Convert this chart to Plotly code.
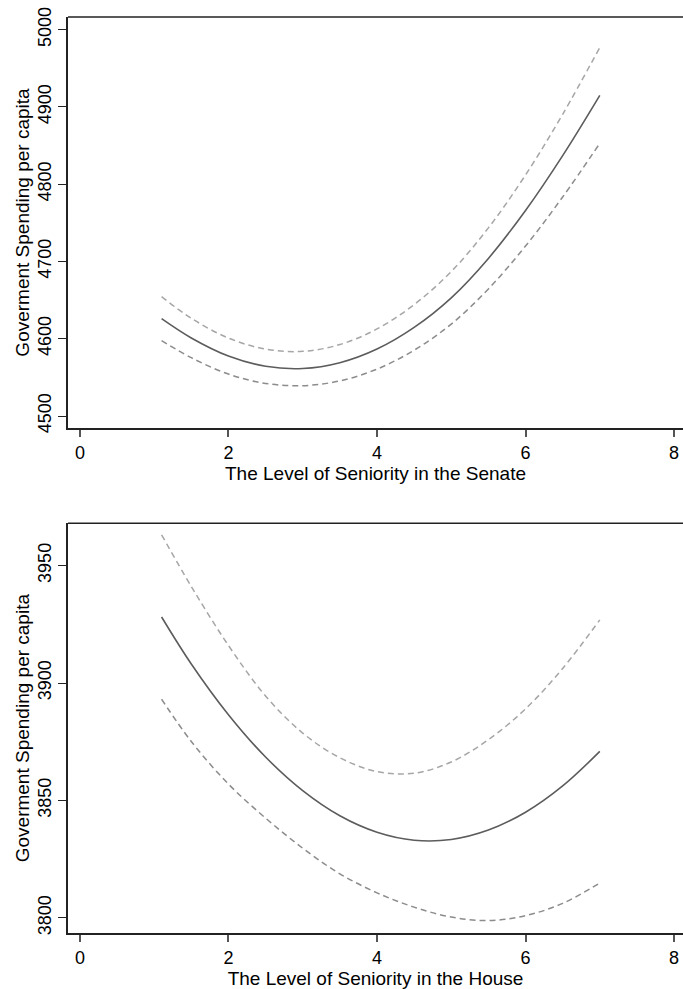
import plotly.graph_objects as go

# ---- data ----
seniority = [1.1, 1.5, 2.0, 2.5, 3.0, 3.5, 4.0, 4.5, 5.0, 5.5, 6.0, 6.5, 7.0]

senate_fit = [4626.0, 4601.0, 4577.6, 4564.4, 4561.5, 4569.0, 4586.7, 4614.7, 4653.0, 4704.0, 4766.0, 4837.0, 4915.0]
senate_upper = [4654.5, 4626.5, 4600.9, 4586.6, 4583.7, 4592.5, 4612.7, 4644.2, 4687.0, 4743.5, 4812.0, 4890.5, 4977.0]
senate_lower = [4597.5, 4575.5, 4554.3, 4542.2, 4539.3, 4545.5, 4560.7, 4585.2, 4619.0, 4664.5, 4720.0, 4783.5, 4853.0]

house_fit = [3928.1, 3908.1, 3886.5, 3868.5, 3854.2, 3843.5, 3836.5, 3833.1, 3833.4, 3837.4, 3845.0, 3856.2, 3870.9]
house_upper = [3963.1, 3941.1, 3916.0, 3894.5, 3878.7, 3868.2, 3862.3, 3861.6, 3866.4, 3875.9, 3889.0, 3906.2, 3926.9]
house_lower = [3893.1, 3875.1, 3857.0, 3842.5, 3829.7, 3818.8, 3810.7, 3804.6, 3800.4, 3798.9, 3801.0, 3806.2, 3814.9]

x_ticks = [0, 2, 4, 6, 8]
senate_yticks = [4500, 4600, 4700, 4800, 4900, 5000]
house_yticks = [3800, 3850, 3900, 3950]

x_title_top = "The Level of Seniority in the Senate"
x_title_bottom = "The Level of Seniority in the House"
y_title = "Goverment Spending per capita"

FONT = "Liberation Sans, Arial, sans-serif"
SOLID = "#5c5c5c"
UP = "#a6a6a6"
LO = "#8c8c8c"
DASH = "6px,4px"

fig = go.Figure()

def add_set(xa, ya, fit, up, lo):
    fig.add_trace(go.Scatter(x=seniority, y=up, mode="lines", xaxis=xa, yaxis=ya,
                             line=dict(color=UP, width=1.5, dash=DASH, shape="spline"),
                             showlegend=False, hoverinfo="skip"))
    fig.add_trace(go.Scatter(x=seniority, y=lo, mode="lines", xaxis=xa, yaxis=ya,
                             line=dict(color=LO, width=1.5, dash=DASH, shape="spline"),
                             showlegend=False, hoverinfo="skip"))
    fig.add_trace(go.Scatter(x=seniority, y=fit, mode="lines", xaxis=xa, yaxis=ya,
                             line=dict(color=SOLID, width=1.6, shape="spline"),
                             showlegend=False, hoverinfo="skip"))

add_set("x", "y", senate_fit, senate_upper, senate_lower)
add_set("x2", "y2", house_fit, house_upper, house_lower)

xcommon = dict(range=[-0.16, 8.12], tickvals=x_ticks, ticks="outside", ticklen=7,
               tickcolor="#555555", tickwidth=1.5, showline=True, linecolor="#222222",
               linewidth=2, showgrid=False, zeroline=False,
               tickfont=dict(family=FONT, size=18, color="#000000"))
ycommon = dict(ticks="outside", ticklen=8, tickcolor="#222222", tickwidth=1.2,
               showline=True, linecolor="#222222", linewidth=1.5, showgrid=False,
               zeroline=False, tickangle=-90,
               tickfont=dict(family=FONT, size=18, color="#000000"))

fig.update_layout(
    width=683, height=989,
    margin=dict(l=68, r=0, t=17, b=56),
    paper_bgcolor="white", plot_bgcolor="white",
    xaxis=dict(domain=[0, 1], anchor="y",
               title=dict(text=x_title_top, font=dict(family=FONT, size=19, color="#000000"), standoff=2),
               **xcommon),
    yaxis=dict(domain=[0.5513, 1], anchor="x", range=[4484.5, 5016.4], tickvals=senate_yticks,
               title=dict(text=y_title, font=dict(family=FONT, size=19, color="#000000"), standoff=0),
               **ycommon),
    xaxis2=dict(domain=[0, 1], anchor="y2",
                title=dict(text=x_title_bottom, font=dict(family=FONT, size=19, color="#000000"), standoff=2),
                **xcommon),
    yaxis2=dict(domain=[0, 0.4473], anchor="x2", range=[3793.6, 3968.0], tickvals=house_yticks,
                title=dict(text=y_title, font=dict(family=FONT, size=19, color="#000000"), standoff=0),
                **ycommon),
    shapes=[
        dict(type="line", xref="x domain", yref="y domain", x0=0, x1=1, y0=1, y1=1,
             line=dict(color="#222222", width=1.5)),
        dict(type="line", xref="x2 domain", yref="y2 domain", x0=0, x1=1, y0=1, y1=1,
             line=dict(color="#222222", width=1.5)),
    ],
)

fig.write_html("out.html")
